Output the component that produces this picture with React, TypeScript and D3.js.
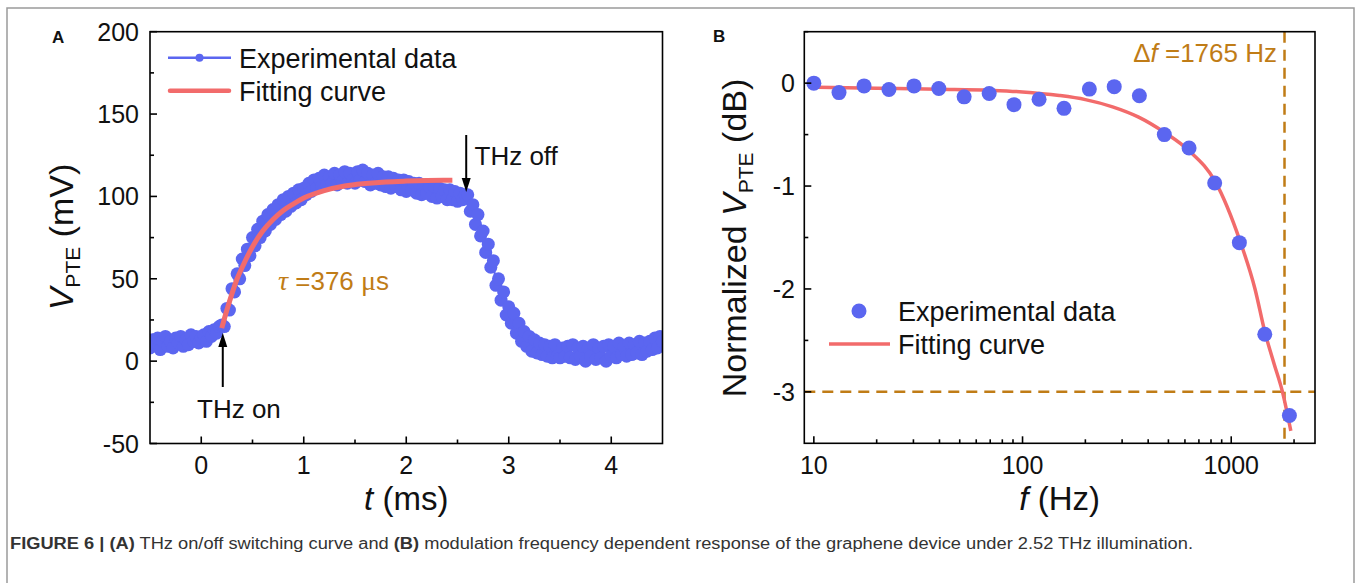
import React from "react";
import * as d3 from "d3";

// ---------- Panel A data ----------
const T_START = -0.5; // ms
const T_STEP = 0.025; // ms
const vpteValues = [
  8, 13, 10, 14, 7, 12, 15, 9, 12, 8, 14, 11, 15, 9, 13, 10, 16, 12, 15, 11,
  14, 16, 12, 18, 15, 19, 17, 21, 22, 21, 32, 31, 44, 42, 53, 50, 62, 58, 68, 64,
  75, 70, 80, 75, 85, 79, 89, 83, 92, 86, 95, 89, 98, 91, 100, 94, 102, 96, 104, 98,
  105, 101, 108, 103, 110, 105, 111, 106, 113, 107, 112, 108, 114, 107, 113, 109, 115, 108, 114, 110,
  108, 115, 110, 116, 109, 114, 107, 113, 108, 114, 107, 112, 106, 112, 105, 111, 106, 110, 104, 110,
  103, 109, 104, 108, 102, 108, 101, 107, 102, 106, 100, 106, 99, 105, 100, 104, 98, 104, 98, 103,
  97, 102, 98, 101, 101, 91, 95, 83, 89, 76, 79, 66, 71, 57, 61, 46, 50, 37, 42, 28,
  33, 23, 29, 17, 23, 12, 18, 9, 15, 6, 13, 5, 11, 4, 10, 3, 9, 2, 10, 3,
  2, 8, 3, 9, 2, 10, 1, 8, 3, 9, 0, 8, 3, 10, 1, 8, 2, 9, 0, 10,
  3, 9, 2, 11, 4, 9, 3, 11, 4, 10, 5, 12, 4, 11, 6, 12, 7, 14, 8, 15,
  12,
];
const fitATimes = [0.2, 0.25, 0.3, 0.35, 0.4, 0.5, 0.6, 0.7, 0.8, 0.9, 1.0, 1.2, 1.4, 1.6, 1.8, 2.0, 2.2, 2.45];
const fitAValues = [20, 31, 41, 50, 57, 69.5, 79, 86, 91.5, 95.5, 99, 103.5, 106.3, 107.8, 108.8, 109.3, 109.6, 109.8];
const aYTicks = [-50, 0, 50, 100, 150, 200];
const aYMinor = [-25, 25, 75, 125, 175];
const aXTicks = [0, 1, 2, 3, 4];
const aXMinor = [0.5, 1.5, 2.5, 3.5];
const thzOnT = 0.21;
const thzOffT = 2.585;

// ---------- Panel B data ----------
const freqs = [10, 13.2, 17.4, 22.9, 30.2, 39.7, 52.5, 69.2, 91, 120, 158, 209, 275, 363, 478, 628, 833, 1094, 1448, 1900];
const dbValues = [0, -0.092, -0.027, -0.062, -0.027, -0.052, -0.133, -0.1, -0.209, -0.157, -0.245, -0.058, -0.034, -0.122, -0.5, -0.63, -0.97, -1.55, -2.44, -3.23];
const fitBFreqs = [10, 20, 40, 70, 100, 150, 200, 270, 360, 480, 630, 840, 1100, 1300, 1450, 1600, 1760, 1930];
const fitBValues = [-0.04, -0.05, -0.06, -0.07, -0.085, -0.12, -0.16, -0.23, -0.33, -0.48, -0.66, -0.96, -1.53, -2.0, -2.42, -2.72, -3.0, -3.38];
const bYTicks = [0, -1, -2, -3];
const bYMinor = [0.5, -0.5, -1.5, -2.5];
const bXTicks = [10, 100, 1000];
const bXMinor = [20, 30, 40, 50, 60, 70, 80, 90, 200, 300, 400, 500, 600, 700, 800, 900, 2000];
const cutoffLineFreq = 1800;
const cutoffDb = -3;

const BLUE = "#5b66f0";
const RED = "#f26b6b";
const BROWN = "#c07c16";
const FONT = "'Liberation Sans', Arial, Helvetica, sans-serif";
const SERIF = "'Liberation Serif', 'Times New Roman', serif";

export default function App() {
  const W = 1360;
  const H = 583;

  const ax = d3.scaleLinear().domain([-0.5, 4.5]).range([150, 662.5]);
  const ay = d3.scaleLinear().domain([-50, 200]).range([443.5, 31.7]);
  const bx = d3.scaleLog().domain([9, 2520]).range([804.3, 1315]);
  const by = d3.scaleLinear().domain([-3.5, 0.5]).range([443.3, 31.7]);

  const aPts = vpteValues.map((v, i) => [T_START + i * T_STEP, v] as [number, number]);
  const aLine = d3.line<[number, number]>().x((d) => ax(d[0])).y((d) => ay(d[1]));
  const fitA = fitATimes.map((t, i) => [t, fitAValues[i]] as [number, number]);
  const fitALine = d3
    .line<[number, number]>()
    .x((d) => ax(d[0]))
    .y((d) => ay(d[1]))
    .curve(d3.curveMonotoneX);
  const fitB = fitBFreqs.map((f, i) => [f, fitBValues[i]] as [number, number]);
  const fitBLine = d3
    .line<[number, number]>()
    .x((d) => bx(d[0]))
    .y((d) => by(d[1]))
    .curve(d3.curveMonotoneX);

  const tickFont = 25;
  const axisW = 1.6;

  const [aX0, aX1] = ax.range();
  const [aY0, aY1] = ay.range();
  const [bX0, bX1] = bx.range();
  const [bY0, bY1] = by.range();

  return (
    <svg
      width={W}
      height={H}
      style={{ position: "absolute", left: 0, top: 0, background: "#fff" }}
      fontFamily={FONT}
    >
      <rect x={0} y={0} width={W} height={H} fill="#fff" />
      <rect x={7} y={8} width={1347} height={620} fill="none" stroke="#9a9a9a" strokeWidth={1.5} />

      {/* ================= Panel A ================= */}
      <text x={52} y={43} fontSize={17} fontWeight="bold" fill="#111">A</text>

      <defs>
        <clipPath id="clipA">
          <rect x={aX0} y={aY1} width={aX1 - aX0} height={aY0 - aY1} />
        </clipPath>
      </defs>

      {/* data */}
      <g clipPath="url(#clipA)">
        <path d={aLine(aPts) || ""} fill="none" stroke={BLUE} strokeWidth={2} />
        {aPts.map((d, i) => (
          <circle key={i} cx={ax(d[0])} cy={ay(d[1])} r={6.5} fill={BLUE} />
        ))}
      </g>
      <path d={fitALine(fitA) || ""} fill="none" stroke={RED} strokeWidth={5} strokeLinecap="butt" />

      {/* axes frame */}
      <rect x={aX0} y={aY1} width={aX1 - aX0} height={aY0 - aY1} fill="none" stroke="#000" strokeWidth={axisW} />
      {aYTicks.map((v) => (
        <g key={"ay" + v}>
          <line x1={aX0} x2={aX0 + 7} y1={ay(v)} y2={ay(v)} stroke="#000" strokeWidth={axisW} />
          <text x={139} y={ay(v)} dy="0.36em" textAnchor="end" fontSize={tickFont} fill="#111">{v}</text>
        </g>
      ))}
      {aYMinor.map((v) => (
        <line key={"aym" + v} x1={aX0} x2={aX0 + 4} y1={ay(v)} y2={ay(v)} stroke="#000" strokeWidth={axisW} />
      ))}
      {aXTicks.map((v) => (
        <g key={"ax" + v}>
          <line x1={ax(v)} x2={ax(v)} y1={aY0} y2={aY0 - 7} stroke="#000" strokeWidth={axisW} />
          <text x={ax(v)} y={474} textAnchor="middle" fontSize={tickFont} fill="#111">{v}</text>
        </g>
      ))}
      {aXMinor.map((v) => (
        <line key={"axm" + v} x1={ax(v)} x2={ax(v)} y1={aY0} y2={aY0 - 4} stroke="#000" strokeWidth={axisW} />
      ))}

      {/* axis titles */}
      <text x={(aX0 + aX1) / 2} y={510} textAnchor="middle" fontSize={33} fill="#111">
        <tspan fontStyle="italic">t</tspan>
        <tspan> (ms)</tspan>
      </text>
      <text transform={`translate(73,237) rotate(-90)`} textAnchor="middle" fontSize={34} fill="#111">
        <tspan fontStyle="italic">V</tspan>
        <tspan fontSize={21} dy={7}>PTE</tspan>
        <tspan dy={-7}> (mV)</tspan>
      </text>

      {/* legend A */}
      <line x1={168} x2={231} y1={57.7} y2={57.7} stroke={BLUE} strokeWidth={2.5} />
      <circle cx={199.5} cy={57.7} r={4} fill={BLUE} />
      <text x={239} y={67.5} fontSize={27} fill="#111">Experimental data</text>
      <line x1={170} x2={229} y1={90.7} y2={90.7} stroke={RED} strokeWidth={4.5} strokeLinecap="round" />
      <text x={239} y={100.5} fontSize={27} fill="#111">Fitting curve</text>

      {/* annotations */}
      <line x1={ax(thzOnT)} x2={ax(thzOnT)} y1={387} y2={345} stroke="#000" strokeWidth={2} />
      <path
        d={`M${ax(thzOnT)},333 L${ax(thzOnT) - 4.5},347 L${ax(thzOnT) + 4.5},347 Z`}
        fill="#000"
      />
      <text x={197} y={418} fontSize={26} fill="#111">THz on</text>

      <line x1={ax(thzOffT)} x2={ax(thzOffT)} y1={135} y2={180} stroke="#000" strokeWidth={2} />
      <path
        d={`M${ax(thzOffT)},192 L${ax(thzOffT) - 4.5},178 L${ax(thzOffT) + 4.5},178 Z`}
        fill="#000"
      />
      <text x={474.5} y={165} fontSize={26} fill="#111">THz off</text>

      <text x={278} y={290} fontSize={26} fill={BROWN}>
        <tspan fontFamily={SERIF} fontStyle="italic" fontSize={28}>τ</tspan>
        <tspan> =376 </tspan>
        <tspan fontFamily={SERIF} fontSize={28}>μ</tspan>
        <tspan>s</tspan>
      </text>

      {/* ================= Panel B ================= */}
      <text x={713} y={42} fontSize={17} fontWeight="bold" fill="#111">B</text>

      <line
        x1={bX0}
        x2={bX1}
        y1={by(cutoffDb)}
        y2={by(cutoffDb)}
        stroke={BROWN}
        strokeWidth={2.5}
        strokeDasharray="11,7"
      />
      <line
        x1={bx(cutoffLineFreq)}
        x2={bx(cutoffLineFreq)}
        y1={bY1}
        y2={bY0}
        stroke={BROWN}
        strokeWidth={2.5}
        strokeDasharray="11,7"
      />

      <path d={fitBLine(fitB) || ""} fill="none" stroke={RED} strokeWidth={3.5} />
      {freqs.map((f, i) => (
        <circle key={"b" + i} cx={bx(f)} cy={by(dbValues[i])} r={7.5} fill={BLUE} />
      ))}

      <rect x={bX0} y={bY1} width={bX1 - bX0} height={bY0 - bY1} fill="none" stroke="#000" strokeWidth={axisW} />
      {bYTicks.map((v) => (
        <g key={"by" + v}>
          <line x1={bX0} x2={bX0 + 7} y1={by(v)} y2={by(v)} stroke="#000" strokeWidth={axisW} />
          <text x={795} y={by(v)} dy="0.36em" textAnchor="end" fontSize={tickFont} fill="#111">{v}</text>
        </g>
      ))}
      {bYMinor.map((v) => (
        <line key={"bym" + v} x1={bX0} x2={bX0 + 4} y1={by(v)} y2={by(v)} stroke="#000" strokeWidth={axisW} />
      ))}
      {bXTicks.map((v) => (
        <g key={"bx" + v}>
          <line x1={bx(v)} x2={bx(v)} y1={bY0} y2={bY0 - 7} stroke="#000" strokeWidth={axisW} />
          <text x={bx(v)} y={474} textAnchor="middle" fontSize={tickFont} fill="#111">{v}</text>
        </g>
      ))}
      {bXMinor.map((v) => (
        <line key={"bxm" + v} x1={bx(v)} x2={bx(v)} y1={bY0} y2={bY0 - 4} stroke="#000" strokeWidth={axisW} />
      ))}

      <text x={(bX0 + bX1) / 2} y={510} textAnchor="middle" fontSize={33} fill="#111">
        <tspan fontStyle="italic">f</tspan>
        <tspan> (Hz)</tspan>
      </text>
      <text transform={`translate(746,238) rotate(-90)`} textAnchor="middle" fontSize={34} fill="#111">
        <tspan>Normalized </tspan>
        <tspan fontStyle="italic">V</tspan>
        <tspan fontSize={21} dy={7}>PTE</tspan>
        <tspan dy={-7}> (dB)</tspan>
      </text>

      <text x={1277} y={62} textAnchor="end" fontSize={26} fill={BROWN}>
        <tspan>Δ</tspan>
        <tspan fontStyle="italic">f</tspan>
        <tspan> =1765 Hz</tspan>
      </text>

      {/* legend B */}
      <circle cx={859} cy={311} r={7.5} fill={BLUE} />
      <text x={898} y={320.5} fontSize={27} fill="#111">Experimental data</text>
      <line x1={829} x2={890} y1={344} y2={344} stroke={RED} strokeWidth={3.5} />
      <text x={898} y={353.5} fontSize={27} fill="#111">Fitting curve</text>

      {/* caption */}
      <text x={10} y={549} fontSize={16} fill="#333" textLength={1183} lengthAdjust="spacingAndGlyphs">
        <tspan fontWeight="bold">FIGURE 6 | (A)</tspan>
        <tspan> THz on/off switching curve and </tspan>
        <tspan fontWeight="bold">(B)</tspan>
        <tspan> modulation frequency dependent response of the graphene device under 2.52 THz illumination.</tspan>
      </text>
    </svg>
  );
}
